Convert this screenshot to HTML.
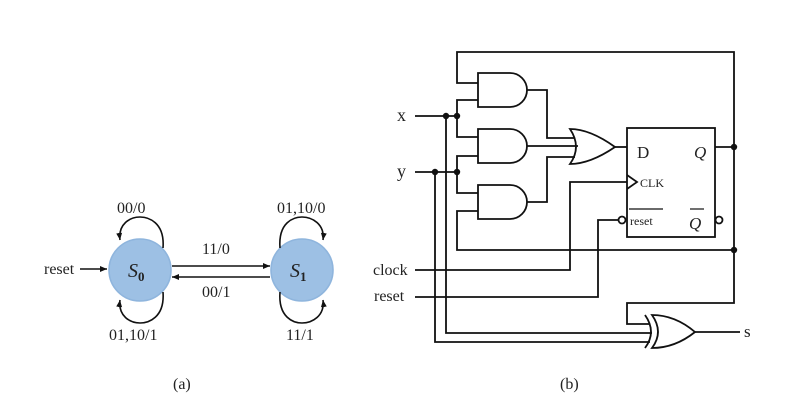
<!DOCTYPE html>
<html><head><style>body{margin:0;background:#fff}svg{display:block}text{font-family:"Liberation Serif",serif;fill:#222}</style></head>
<body>
<svg width="792" height="402" viewBox="0 0 792 402" xmlns="http://www.w3.org/2000/svg">
<defs>
<marker id="a" markerWidth="8" markerHeight="8" refX="7" refY="4" orient="auto" markerUnits="userSpaceOnUse"><path d="M0,1 L7,4 L0,7 Z" fill="#111"/></marker>
</defs>
<g stroke="#111" stroke-width="1.6" fill="none">
<circle cx="140" cy="270" r="31" fill="#9dc0e4" stroke="#8fb5dd"/>
<circle cx="302" cy="270" r="31" fill="#9dc0e4" stroke="#8fb5dd"/>
<line x1="80" y1="269" x2="107" y2="269" marker-end="url(#a)"/>
<line x1="172" y1="266" x2="270" y2="266" marker-end="url(#a)"/>
<line x1="270" y1="277" x2="172" y2="277" marker-end="url(#a)"/>
<path d="M163,248 C165,222 148,217 140,217 C130,217 118,224 120,240" marker-end="url(#a)"/>
<path d="M163,292 C165,318 148,323 140,323 C130,323 118,316 120,300" marker-end="url(#a)"/>
<path d="M280,248 C278,222 294,217 302,217 C312,217 325,224 323,240" marker-end="url(#a)"/>
<path d="M280,292 C278,318 294,323 302,323 C312,323 325,316 323,300" marker-end="url(#a)"/>
</g>
<text x="44" y="274" font-size="16">reset</text>
<text x="128" y="277" font-size="20" font-style="italic">S<tspan font-size="13" dy="4" font-style="normal" font-weight="bold">0</tspan></text>
<text x="290" y="277" font-size="20" font-style="italic">S<tspan font-size="13" dy="4" font-style="normal" font-weight="bold">1</tspan></text>
<text x="117" y="213" font-size="16">00/0</text>
<text x="277" y="213" font-size="16">01,10/0</text>
<text x="202" y="254" font-size="16">11/0</text>
<text x="202" y="297" font-size="16">00/1</text>
<text x="109" y="340" font-size="16">01,10/1</text>
<text x="286" y="340" font-size="16">11/1</text>
<text x="173" y="389" font-size="16">(a)</text>
<text x="560" y="389" font-size="16">(b)</text>
<g stroke="#111" stroke-width="1.8" fill="none">
<polyline points="478,83 457,83 457,52 734,52 734,303 627,303 627,324 650,324"/>
<line x1="415" y1="116" x2="457" y2="116"/>
<polyline points="478,100 457,100 457,137 478,137"/>
<line x1="415" y1="172" x2="457" y2="172"/>
<polyline points="478,156 457,156 457,193 478,193"/>
<polyline points="478,211 457,211 457,250 734,250"/>
<path d="M478,73 H510 A17,17 0 0 1 510,107 H478 Z"/>
<path d="M478,129 H510 A17,17 0 0 1 510,163 H478 Z"/>
<path d="M478,185 H510 A17,17 0 0 1 510,219 H478 Z"/>
<polyline points="527,90 547,90 547,138 575,138"/>
<polyline points="527,146 578,146"/>
<polyline points="527,202 547,202 547,157 575,157"/>
<path d="M570,129 Q590,129 615,147 Q590,164 570,164 Q582,147 570,129 Z"/>
<line x1="615" y1="147" x2="627" y2="147"/>
<rect x="627" y="128" width="88" height="109"/>
<polyline points="627,175 637,182 627,189"/>
<line x1="715" y1="147" x2="734" y2="147"/>
<circle cx="622" cy="220" r="3.5" fill="#fff"/>
<circle cx="719" cy="220" r="3.5" fill="#fff"/>
<polyline points="415,270 570,270 570,182 627,182"/>
<polyline points="415,297 598,297 598,220 618,220"/>
<path d="M652,315 Q675,315 695,332 Q675,348 652,348 Q664,332 652,315 Z"/>
<path d="M645,315 Q657,332 645,348"/>
<line x1="695" y1="332" x2="740" y2="332"/>
<polyline points="446,116 446,333 652,333"/>
<polyline points="435,172 435,342 650,342"/>
<line x1="629" y1="209" x2="663" y2="209" stroke-width="1.2"/>
<line x1="690" y1="209" x2="704" y2="209" stroke-width="1.2"/>
</g>
<g fill="#111">
<circle cx="446" cy="116" r="3.2"/><circle cx="457" cy="116" r="3.2"/>
<circle cx="435" cy="172" r="3.2"/><circle cx="457" cy="172" r="3.2"/>
<circle cx="734" cy="147" r="3.2"/><circle cx="734" cy="250" r="3.2"/>
</g>
<text x="397" y="121" font-size="18">x</text>
<text x="397" y="177" font-size="18">y</text>
<text x="373" y="275" font-size="16">clock</text>
<text x="374" y="301" font-size="16">reset</text>
<text x="744" y="337" font-size="17">s</text>
<text x="637" y="158" font-size="17">D</text>
<text x="694" y="158" font-size="17" font-style="italic">Q</text>
<text x="640" y="187" font-size="12">CLK</text>
<text x="630" y="225" font-size="12">reset</text>
<text x="689" y="229" font-size="17" font-style="italic">Q</text>
</svg>
</body></html>
